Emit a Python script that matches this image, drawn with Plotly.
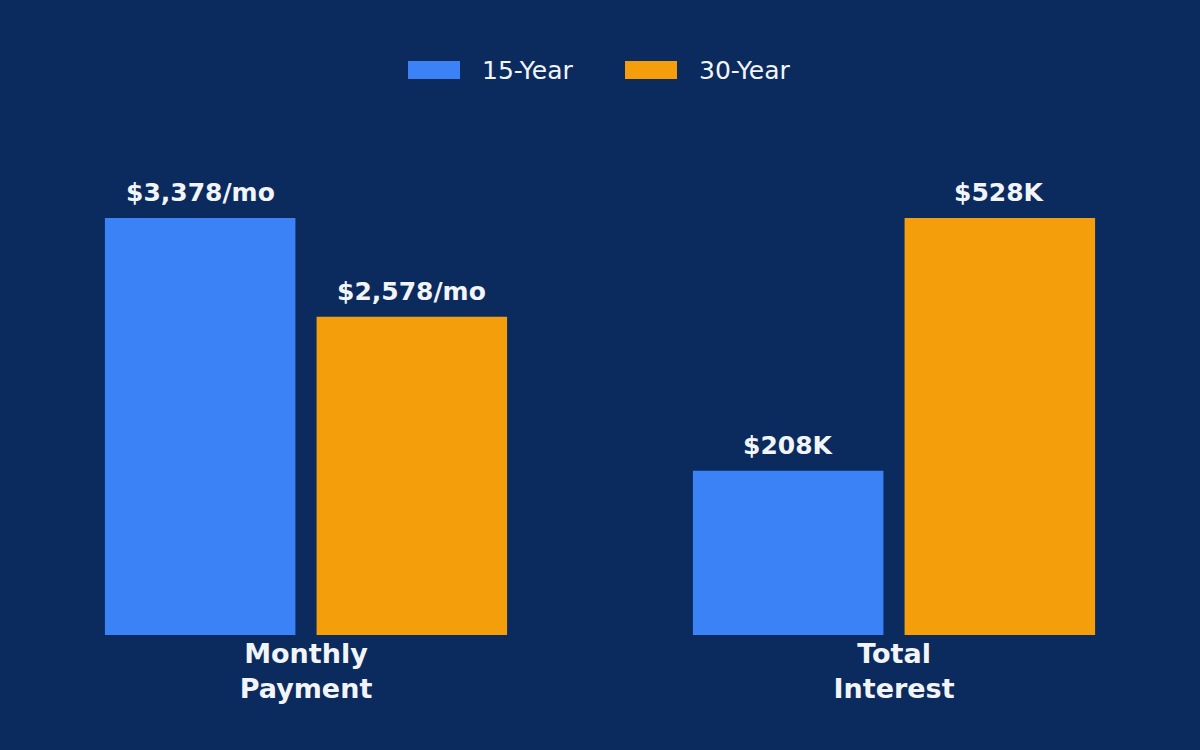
import plotly.graph_objects as go

# mortgage comparison, 15 vs 30 year
categories = ['Monthly<br>Payment', 'Total<br>Interest']
terms = ['15-Year', '30-Year']
monthly = [3378, 2578]          # $/mo
interest = [208000, 528000]     # $ total
labels_15 = ['$3,378/mo', '$208K']
labels_30 = ['$2,578/mo', '$528K']

# each category scaled to its own max so both fit one axis
m_max = max(monthly)
i_max = max(interest)
y15 = [monthly[0] / m_max, interest[0] / i_max]
y30 = [monthly[1] / m_max, interest[1] / i_max]

bg = '#0B2A5E'
txt = '#F1F5F9'
c15 = '#3B82F6'
c30 = '#F59E0B'

W, H = 1200, 750
ml, mr, mt, mb = 12, 12, 135, 115
pw, ph = W - ml - mr, H - mt - mb
bargap = 0.28

def px(x):
    return (x - ml) / pw

def py(y):
    return (H - mb - y) / ph

lblfont = dict(family='DejaVu Sans', size=25, color=txt, weight='bold')

bar15 = go.Bar(x=categories, y=y15, name=terms[0], marker=dict(color=c15, line=dict(width=0)))
bar30 = go.Bar(x=categories, y=y30, name=terms[1], marker=dict(color=c30, line=dict(width=0)))

fig = go.Figure(data=[bar15, bar30])

# value labels, sat a bit higher than plotly's outside text
slot = pw / len(categories) * (1 - bargap) / 2
annos = []
for ys, labs, side in [(y15, labels_15, -1), (y30, labels_30, 1)]:
    for cat, v, lab in zip(categories, ys, labs):
        annos.append(dict(x=cat, y=v, xref='x', yref='y', text=lab, showarrow=False,
                          xanchor='center', yanchor='bottom', xshift=side * slot / 2,
                          yshift=9, font=lblfont))

# legend drawn by hand to get the wide swatches
shapes = []
for i, (name, col) in enumerate(zip(terms, [c15, c30])):
    x0 = 408 + i * 217
    shapes.append(dict(type='rect', xref='paper', yref='paper',
                       x0=px(x0), x1=px(x0 + 52), y0=py(79), y1=py(61),
                       fillcolor=col, line=dict(width=0)))
    annos.append(dict(xref='paper', yref='paper', x=px(x0 + 72), y=py(70),
                      xanchor='left', yanchor='middle', text=name, showarrow=False,
                      font=dict(family='DejaVu Sans', size=25, color=txt)))

fig.update_layout(
    width=W, height=H,
    paper_bgcolor=bg, plot_bgcolor=bg,
    barmode='group', bargap=bargap, bargroupgap=0.1,
    margin=dict(l=ml, r=mr, t=mt, b=mb),
    font=dict(family='DejaVu Sans', color=txt),
    showlegend=False,
    shapes=shapes, annotations=annos,
)
fig.update_xaxes(showgrid=False, zeroline=False, showline=False, ticks='',
                 tickfont=dict(family='DejaVu Sans', size=27, color=txt, weight='bold'))
fig.update_yaxes(range=[0, ph / 417], showgrid=False, zeroline=False, showline=False,
                 showticklabels=False)

fig.write_html("out.html", config={'displayModeBar': False},
               post_script="document.body.style.margin='0';document.body.style.background='%s';" % bg)
